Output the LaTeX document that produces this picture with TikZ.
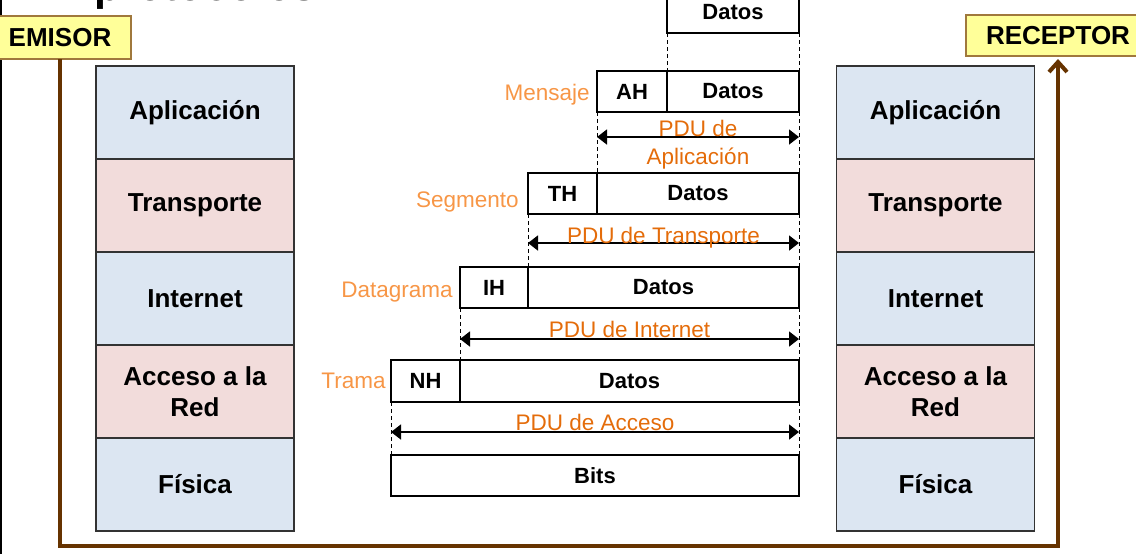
\documentclass[tikz,border=0pt]{standalone}
\usepackage{fontspec}
\setmainfont{Liberation Sans}
\usetikzlibrary{positioning}
\usetikzlibrary{arrows.meta}

\definecolor{capaazul}{RGB}{220,230,242}
\definecolor{caparosa}{RGB}{242,220,219}
\definecolor{amarillo}{RGB}{255,255,153}
\definecolor{bordeamarillo}{RGB}{160,120,60}
\definecolor{marron}{RGB}{102,51,0}
\definecolor{naranja}{RGB}{247,150,70}
\definecolor{naranjapdu}{RGB}{228,108,10}

\begin{document}
\begin{tikzpicture}[x=0.5pt,y=-0.5pt,
                capa/.style={draw=black!80,line width=0.75pt,minimum width=99pt,minimum height=46.5pt,inner sep=0pt,outer sep=0pt,align=center,font=\fontsize{13}{15.5}\selectfont\bfseries},
                azul/.style={capa,fill=capaazul},
                rosa/.style={capa,fill=caparosa},
                extremo/.style={draw=bordeamarillo,fill=amarillo,line width=0.6pt,inner sep=0pt,outer sep=0pt,font=\fontsize{13}{15}\selectfont\bfseries},
                campo/.style={draw,line width=0.8pt,minimum height=20.5pt,inner sep=0pt,outer sep=0pt,font=\fontsize{11}{13}\selectfont\bfseries},
                etiqueta/.style={text=naranja,inner sep=0pt,font=\fontsize{11.25}{13}\selectfont},
                pdu/.style={{Triangle[length=5pt,width=7.5pt]}-{Triangle[length=5pt,width=7.5pt]},line width=0.8pt},
                pdutexto/.style={text=naranjapdu,inner sep=0pt,align=center,font=\fontsize{11.25}{14}\selectfont},
                guia/.style={line width=0.5pt,dash pattern=on 2pt off 1.5pt},
                enlace/.style={draw=marron,line width=2pt,shorten >=1.5pt,-{Straight Barb[length=5pt,width=9pt]}}]

                \useasboundingbox (0,0) rectangle (1136,554);
                \clip (0,0) rectangle (1136,554);

                \node[anchor=base west,inner sep=0pt,font=\fontsize{21.5}{24}\selectfont\bfseries] (titulo) at (94,0.5) {protocolos};
                \draw[line width=1pt] (1,0) -- (1,554);

                \node[extremo,minimum width=71pt,minimum height=21.5pt] (emisor) at (60,37.5) {EMISOR};
                \node[extremo,minimum width=92pt,minimum height=20.5pt] (receptor) at (1058,35.5) {RECEPTOR};

                \node[azul] (ea) at (195,112.5) {Aplicación};
                \node[rosa,below=0pt of ea] (et) {Transporte};
                \node[azul,below=0pt of et] (ei) {Internet};
                \node[rosa,below=0pt of ei] (ed) {Acceso a la\\Red};
                \node[azul,below=0pt of ed] (ef) {Física};

                \node[azul] (ra) at (935.5,112.5) {Aplicación};
                \node[rosa,below=0pt of ra] (rt) {Transporte};
                \node[azul,below=0pt of rt] (ri) {Internet};
                \node[rosa,below=0pt of ri] (rd) {Acceso a la\\Red};
                \node[azul,below=0pt of rd] (rf) {Física};

                \node[campo,minimum width=66pt,anchor=south west] (d0) at (667,33) {Datos};

                \node[campo,minimum width=35pt,anchor=north west] (ah) at (597,71) {AH};
                \node[campo,minimum width=66pt,right=0pt of ah] (dm) {Datos};
                \node[etiqueta,left=3.5pt of ah,yshift=-1.5pt] (mensaje) {Mensaje};

                \node[campo,minimum width=34.5pt,anchor=north west] (th) at (528,173) {TH};
                \node[campo,minimum width=101pt,right=0pt of th] (ds) {Datos};
                \node[etiqueta,left=4.5pt of th,yshift=-4pt] (segmento) {Segmento};

                \node[campo,minimum width=34pt,anchor=north west] (ih) at (460,267) {IH};
                \node[campo,minimum width=135.5pt,right=0pt of ih] (di) {Datos};
                \node[etiqueta,left=3.5pt of ih,yshift=-2.5pt] (datagrama) {Datagrama};

                \node[campo,minimum width=34.5pt,minimum height=21pt,anchor=north west] (nh) at (391,360) {NH};
                \node[campo,minimum width=169.5pt,minimum height=21pt,right=0pt of nh] (dt) {Datos};
                \node[etiqueta,left=2.5pt of nh] (trama) {Trama};

                \node[campo,minimum width=204pt,anchor=north west] (bits) at (391,455) {Bits};

                \draw[guia] (d0.south west) -- (ah.north east);
                \draw[guia] (d0.south east) -- (dm.north east);
                \draw[guia] (ah.south west) -- (th.north east);
                \draw[guia] (dm.south east) -- (ds.north east);
                \draw[guia] (th.south west) -- (ih.north east);
                \draw[guia] (ds.south east) -- (di.north east);
                \draw[guia] (ih.south west) -- (nh.north east);
                \draw[guia] (di.south east) -- (dt.north east);
                \draw[guia] (nh.south west) -- (bits.north west);
                \draw[guia] (dt.south east) -- (bits.north east);

                \draw[pdu] ([yshift=-12.5pt]ah.south west) -- node[pdutexto,yshift=-4pt] (pduapl) {PDU de\\Aplicación} ([yshift=-12.5pt]dm.south east);
                \draw[pdu] ([yshift=-14.5pt]th.south west) -- node[pdutexto,yshift=2.5pt] (pdutra) {PDU de Transporte} ([yshift=-14.5pt]ds.south east);
                \draw[pdu] ([yshift=-15.5pt]ih.south west) -- node[pdutexto,yshift=5pt] (pduint) {PDU de Internet} ([yshift=-15.5pt]di.south east);
                \draw[pdu] ([yshift=-15pt]nh.south west) -- node[pdutexto,yshift=5pt] (pduacc) {PDU de Acceso} ([yshift=-15pt]dt.south east);

                \coordinate (fondo) at (560,546);
                \draw[enlace] (emisor.south) |- (fondo) -| (receptor.south);
            \end{tikzpicture}
\end{document}
